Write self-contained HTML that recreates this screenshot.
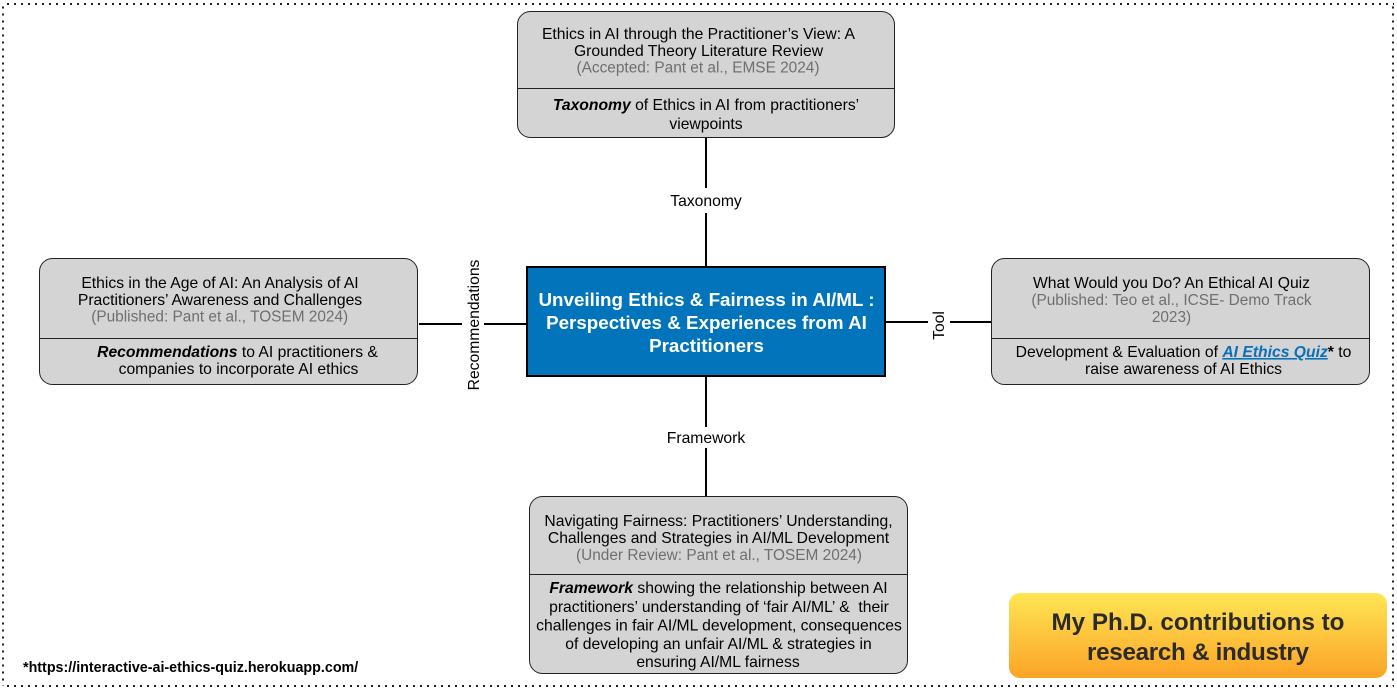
<!DOCTYPE html>
<html><head><meta charset="utf-8"><style>
html,body{margin:0;padding:0;background:#fff}
svg{display:block}
text{font-family:"Liberation Sans",Arial,sans-serif;font-size:15.7px;fill:#000;text-anchor:middle}
.g{fill:#6f6f6f;font-size:15.4px}
.box{fill:#d4d4d4;stroke:#222;stroke-width:1}
.l{stroke:#000;stroke-width:2;fill:none}
.d{stroke:#222;stroke-width:1}
.b{stroke:#222;stroke-width:2;stroke-dasharray:2 5;fill:none}
</style></head><body>
<svg width="1397" height="690" viewBox="0 0 1397 690" xmlns="http://www.w3.org/2000/svg">
<defs><linearGradient id="y" x1="0" y1="0" x2="0" y2="1"><stop offset="0" stop-color="#fee655"/><stop offset="1" stop-color="#fca326"/></linearGradient></defs>
<path class="b" d="M7 4H1394"/>
<path class="b" d="M7 686H1394"/>
<path class="b" d="M3 6.500V686"/>
<path class="b" d="M1393 6.500V686"/>

<path class="l" d="M706 138V188M706 213V266M706 377V427M706 448V496M419 324H462M484 324H527M886 322H928M950 322H992"/>

<rect x="527" y="267" width="358" height="109" fill="#0274bb" stroke="#000" stroke-width="2"/>
<text x="706.500" y="306" style="font-size:18.800px;font-weight:bold;fill:#fff">Unveiling Ethics &amp; Fairness in AI/ML :</text>
<text x="706.500" y="329" style="font-size:18.800px;font-weight:bold;fill:#fff">Perspectives &amp; Experiences from AI</text>
<text x="706.500" y="352" style="font-size:18.800px;font-weight:bold;fill:#fff">Practitioners</text>

<rect class="box" x="517.500" y="11.500" width="377" height="126" rx="13"/>
<path class="d" d="M518 88.500H894"/>
<text x="698.500" y="39">Ethics in AI through the Practitioner’s View: A</text>
<text x="698.500" y="56">Grounded Theory Literature Review</text>
<text x="698" y="72.500" class="g">(Accepted: Pant et al., EMSE 2024)</text>
<text x="706" y="110"><tspan font-weight="bold" font-style="italic">Taxonomy</tspan> of Ethics in AI from practitioners’</text>
<text x="706" y="129">viewpoints</text>

<rect class="box" x="39.500" y="258.500" width="378" height="126" rx="13"/>
<path class="d" d="M40 338.500H417"/>
<text x="220" y="288">Ethics in the Age of AI: An Analysis of AI</text>
<text x="220" y="305">Practitioners’ Awareness and Challenges</text>
<text x="219.700" y="321.500" class="g">(Published: Pant et al., TOSEM 2024)</text>
<text x="237.500" y="357"><tspan font-weight="bold" font-style="italic">Recommendations</tspan> to AI practitioners &amp;</text>
<text x="238.500" y="374">companies to incorporate AI ethics</text>

<rect class="box" x="991.500" y="258.500" width="378" height="126" rx="13"/>
<path class="d" d="M992 338.500H1369"/>
<text x="1171.500" y="288">What Would you Do? An Ethical AI Quiz</text>
<text x="1171.500" y="305" class="g">(Published: Teo et al., ICSE- Demo Track</text>
<text x="1171.500" y="322" class="g">2023)</text>
<text x="1183.500" y="357">Development &amp; Evaluation of <tspan font-weight="bold" font-style="italic" style="fill:#0a70b8" text-decoration="underline">AI Ethics Quiz</tspan><tspan font-weight="bold">*</tspan> to</text>
<text x="1183.500" y="374">raise awareness of AI Ethics</text>

<rect class="box" x="529.500" y="496.500" width="378" height="177" rx="13"/>
<path class="d" d="M530 574.500H907"/>
<text x="718.500" y="526">Navigating Fairness: Practitioners’ Understanding,</text>
<text x="718.500" y="543">Challenges and Strategies in AI/ML Development</text>
<text x="719" y="560" class="g">(Under Review: Pant et al., TOSEM 2024)</text>
<text x="718.500" y="593"><tspan font-weight="bold" font-style="italic">Framework</tspan> showing the relationship between AI</text>
<text x="719" y="612">practitioners’ understanding of ‘fair AI/ML’ &amp;&#160; their</text>
<text x="719" y="630.500">challenges in fair AI/ML development, consequences</text>
<text x="718.500" y="649">of developing an unfair AI/ML &amp; strategies in</text>
<text x="718" y="667">ensuring AI/ML fairness</text>

<text x="706" y="206">Taxonomy</text>
<text x="706" y="443">Framework</text>
<text transform="translate(479 325) rotate(-90)">Recommendations</text>
<text transform="translate(944 325.500) rotate(-90)">Tool</text>

<rect x="1009" y="593" width="378" height="85" rx="11" fill="url(#y)"/>
<text x="1198" y="630" style="font-size:24.200px;font-weight:bold;fill:#2b2b2b">My Ph.D. contributions to</text>
<text x="1198" y="660" textLength="222" style="font-size:24.200px;font-weight:bold;fill:#2b2b2b">research &amp; industry</text>

<text x="23" y="672" style="font-size:14.300px;font-weight:bold;text-anchor:start">*https://interactive-ai-ethics-quiz.herokuapp.com/</text>
</svg>
</body></html>
